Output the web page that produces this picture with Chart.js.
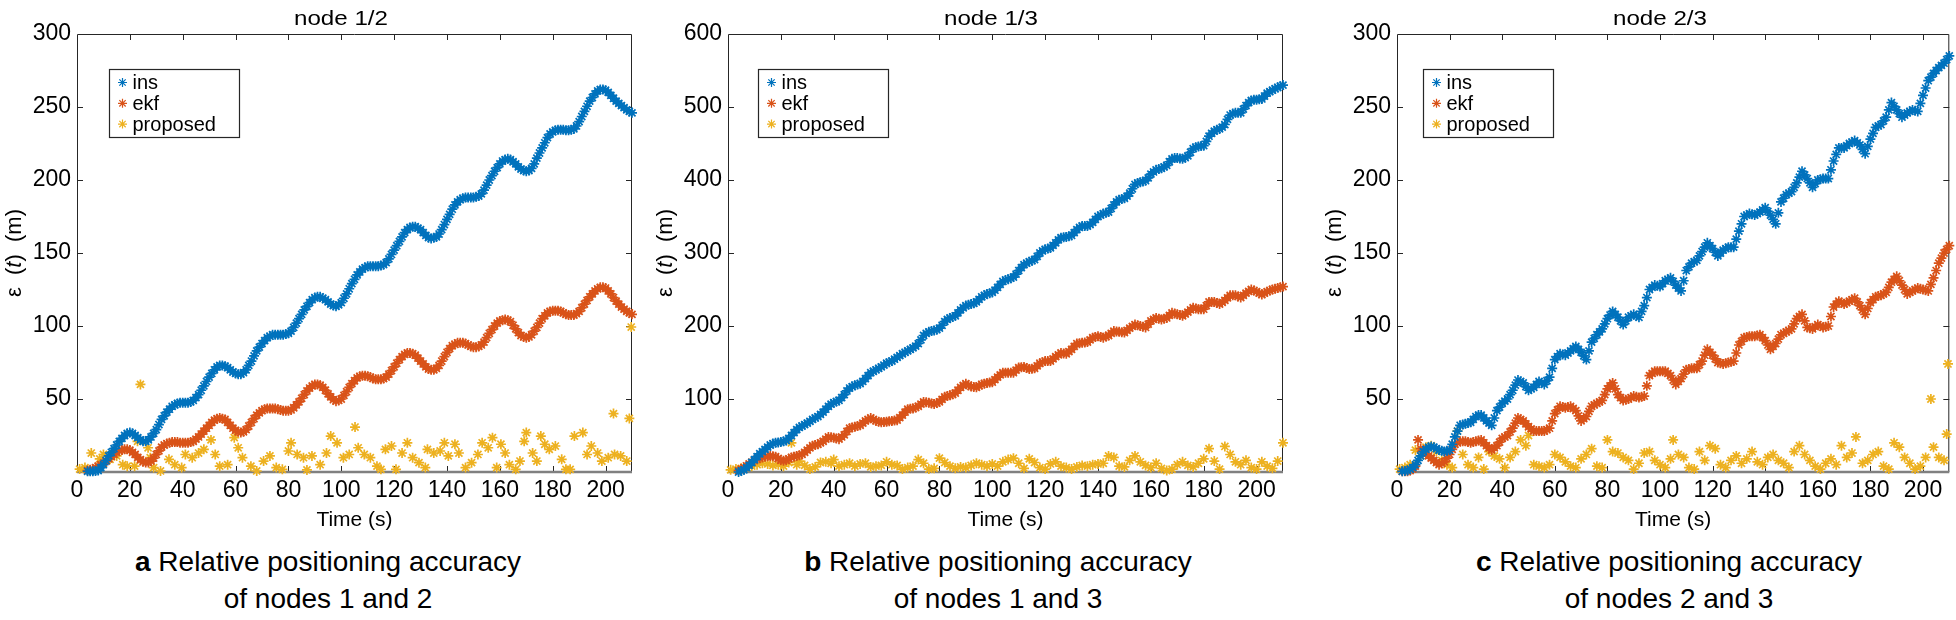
<!DOCTYPE html>
<html>
<head>
<meta charset="utf-8">
<script src="https://cdn.jsdelivr.net/npm/chart.js@4"></script>
<style>
  body { margin: 0; width: 1956px; height: 620px; background: #fff; position: relative; overflow: hidden;
         font-family: 'Liberation Sans', Arial, sans-serif; color: #000; }
  canvas { position: absolute; top: 0; }
  .ttl { position: absolute; top: 0; line-height: 35px; font-size: 21px; white-space: nowrap;
         transform: translateX(-50%) scaleX(1.15); }
  .cap { position: absolute; top: 544px; font-size: 28px; line-height: 36.6px; text-align: center;
         white-space: nowrap; transform: translateX(-50%); }
</style>
</head>
<body>
<canvas id="c1" width="650" height="540" style="left:0"></canvas>
<canvas id="c2" width="655" height="540" style="left:650px"></canvas>
<canvas id="c3" width="651" height="540" style="left:1305px"></canvas>

<div class="ttl" style="left:341px">node 1/2</div>
<div class="ttl" style="left:991px">node 1/3</div>
<div class="ttl" style="left:1660px">node 2/3</div>

<div class="cap" style="left:328px"><b>a</b> Relative positioning accuracy<br>of nodes 1 and 2</div>
<div class="cap" style="left:998px"><b>b</b> Relative positioning accuracy<br>of nodes 1 and 3</div>
<div class="cap" style="left:1669px"><b>c</b> Relative positioning accuracy<br>of nodes 2 and 3</div>

<script>
// sample times (s) of ins / ekf, panels a and b
const timeAB = [4,5,6,7,8,9,10,11,12,13,14,15,16,17,18,19,20,21,22,23,
  24,25,26,27,28,29,30,31,32,33,34,35,36,37,38,39,40,41,42,43,
  44,45,46,47,48,49,50,51,52,53,54,55,56,57,58,59,60,61,62,63,
  64,65,66,67,68,69,70,71,72,73,74,75,76,77,78,79,80,81,82,83,
  84,85,86,87,88,89,90,91,92,93,94,95,96,97,98,99,100,101,102,103,
  104,105,106,107,108,109,110,111,112,113,114,115,116,117,118,119,120,121,122,123,
  124,125,126,127,128,129,130,131,132,133,134,135,136,137,138,139,140,141,142,143,
  144,145,146,147,148,149,150,151,152,153,154,155,156,157,158,159,160,161,162,163,
  164,165,166,167,168,169,170,171,172,173,174,175,176,177,178,179,180,181,182,183,
  184,185,186,187,188,189,190,191,192,193,194,195,196,197,198,199,200,201,202,203,
  204,205,206,207,208,209,210];
// sample times (s) of ins / ekf, panel c
const timeC = [2,3,4,5,6,7,8,9,10,11,12,13,14,15,16,17,18,19,20,21,
  22,23,24,25,26,27,28,29,30,31,32,33,34,35,36,37,38,39,40,41,
  42,43,44,45,46,47,48,49,50,51,52,53,54,55,56,57,58,59,60,61,
  62,63,64,65,66,67,68,69,70,71,72,73,74,75,76,77,78,79,80,81,
  82,83,84,85,86,87,88,89,90,91,92,93,94,95,96,97,98,99,100,101,
  102,103,104,105,106,107,108,109,110,111,112,113,114,115,116,117,118,119,120,121,
  122,123,124,125,126,127,128,129,130,131,132,133,134,135,136,137,138,139,140,141,
  142,143,144,145,146,147,148,149,150,151,152,153,154,155,156,157,158,159,160,161,
  162,163,164,165,166,167,168,169,170,171,172,173,174,175,176,177,178,179,180,181,
  182,183,184,185,186,187,188,189,190,191,192,193,194,195,196,197,198,199,200,201,
  202,203,204,205,206,207,208,209,210];

// node 1/2
const ins12 = [0.5,0.5,0.5,0.7,1,3,5,8,11,13.5,16,18.5,21,23,25,26.5,27,26.5,25,23.5,
  22,21,21,22,24,26.5,29,32.5,36,38.5,41,43,45,46,47,47.5,47.5,47.5,47.5,48,
  49,51,53,56,59,62,65,67.5,70,72,73,73,72.5,71.5,70,68.5,67.5,67,67,68,
  70,73,76,79.5,83,85.5,88,90,92,93,94,94,94,94,94,94.5,95,96.5,99,102,
  105,108,111,113.5,116,118,119.5,120,120,119,118,116.5,115,114,113.5,114.5,116,119,122,125.5,
  129,132,135,137,139,140,141,141,141,141,141,141.5,142,143.5,146,149,152,155,158,161,
  164,166,167.5,168,168,167,166,164,162,160.5,160,160.5,161,163,166,169.5,173,176.5,180,183,
  185,186.5,187.5,188,188,188,188,188.5,189,190.5,193,196.5,200,203,206,208.5,211,213,214,214.5,
  214,212.5,211,209,207.5,206.5,206,206.5,208,211,215,218.5,222,225.5,229,231.5,233,234,234.5,234.5,
  234.5,234,234,234.5,235,237,240,243.5,247,250.5,254,256.5,259,261,262,262,261.5,260,258,256,
  254,252.5,251,249.5,248,247,246];
const ekf12 = [1,1.5,2,3,4,5,6,7.5,9,10.5,12,13.5,14.5,15,15.5,15.5,15,13.5,12,10,
  8.5,7,6.5,6.5,7.5,9.5,12,14.5,17,18.5,19.5,20,20.5,20.5,20.5,20,20,20,20,20.5,
  21,22.5,24,26,28,30,32,34,35.5,36.5,37,36.5,36,34,32,30,28.5,27.5,27,27.5,
  29,31.5,34,36.5,39,40.5,42,43,43.5,43.5,43.5,43.5,43,42.5,42,42,42,42.5,44,46,
  48,50.5,53,55.5,57.5,59,60,60,59.5,58,56,53.5,51.5,49.5,48.5,49,50,52.5,55,58,
  60.5,62.5,64.5,65.5,66,66,65.5,65,64,63.5,63.5,63.5,64,65,67,69.5,72,74.5,77,79,
  80.5,81.5,81.5,81,80,78,76,74,72,70.5,70,70,71,73,76,79,82,84.5,86.5,87.5,
  88.5,88.5,88.5,88,87,86,85.5,85.5,86,87,89,92,95,97.5,100,102,103.5,104,104.5,104,
  103,100.5,98,95.5,93.5,92.5,92,92.5,94,96.5,99,102,105,107,109,110,110.5,110.5,110.5,110,
  109,108,107.5,107.5,107.5,108.5,110,112.5,115,117.5,120,122,124,125.5,126.5,126.5,126,124,122,119.5,
  117,115,113,111.5,110,109,108];
const propT12 = [1,3,5,5.4,8.6,10,12.5,15,17.3,19,
  21.8,22.9,24,26.9,27.7,29,31.6,34.8,37,39.6,
  41,43.6,46,48,50.7,52.3,54,57,59.5,61,
  62.6,65.8,68,70.6,73,75.4,77.7,80,81,83.3,
  85.7,87,88.9,92,94.4,96,98.4,100.8,103,105.2,
  106.4,108.7,111,113.5,115,116.7,119,120.7,123,125,
  127,129.4,131.8,132.6,135,137.4,139,140.5,143,144.5,
  147,149.3,151.7,153.3,155.6,157.2,158.8,160.4,162,163.6,
  166,167.6,169.2,170,172.4,174,175.5,177,178.7,181,
  183.4,185,186.6,188.2,191.4,193,194.6,197,198.6,201,
  203,203.4,205.7,208,209,209.7];
const prop12 = [2,3,1,13,9,12,8.7,11,5,4,
  4,21,60,16.6,9.8,3,0.7,8.7,5,3,
  12,9.8,13,15.5,22,12,4,5,23.5,16.6,
  9.8,4,0.7,7.5,11,3,1.8,14.4,20,12,
  9.8,1.4,11,5,13,24.6,20,9.8,12,30.8,
  16.6,12,9.8,4,1.8,15.5,17.8,1.8,13,20,
  9.8,6.4,3,15.5,13,14.4,20,11,19,13,
  3,6.4,12,20,16.6,23.5,3,19,13,5,
  1.8,7.5,21,27,13,7.5,24.6,19,15.5,17.8,
  8.7,1.8,1.8,24.6,27,12,17.8,13,7.5,9.8,
  40,12,11,7.5,36.7,99.3];

// node 1/3
const ins13 = [0,1.5,3,6,9,13,17,21,25,28,31,34,37,39,40,40.5,41,42,43,46,
  50,54,58,61,63,65,67,69.5,72,74,76,79,82,86,90,93,95,96.5,98,102,
  106,111,115,117,119,120,121,124,128,132,136,138,140,142,144,146.5,149,150.5,152,154.5,
  157,159.5,162,164,166,168,170,172.5,176,181,187,190,192,193,194,195,197,201,206,209,
  211,212.5,214,218,222,225,228,229,230,231,233,236.5,240,242,244,245,246,249,253,257,
  261,263,264,265.5,267,271,276,280,284,286,288,289.5,291,295.5,300,303,305,306,307,310.5,
  314,318,321,321.5,322,323,324,328,332,335,337,337,337,339,342,346,350,352,354,355,
  356,361,366,370,373,374,375,378,382,388,394,396,397,398,399,403,408,411,414,415,
  416,418,420,425,429,430,430,429.5,429,430.5,433,438,443,445,446,446.5,447,453,460,464,
  467,469,470,472.5,476,483,489,491,492,492,492,497,502,506,509,510,510,510.5,511,515,
  519,521,523,525,527,528.5,530];
const ekf13 = [2,4,6,8.5,11,13.5,16,17.5,19,20,21,21.5,22,21.5,21,18.5,16,15.5,16,18,
  20,21,22,23,24,27,30,33,36,37,38,40,42,45,48,47.5,47,46,45,48,
  51,55.5,60,61,62,63,64,67,70,72,74,72,70,69,68,68.5,69,69.5,70,70.5,
  71,74.5,78,82,86,86.5,87,88.5,90,93,96,95.5,95,94,93,94.5,96,99.5,103,104,
  105,106.5,108,112,116,118.5,121,119,117,116.5,116,118,120,121,122,122.5,123,126.5,130,133,
  136,136,136,136,136,139.5,143,143.5,144,142.5,141,141.5,142,145.5,149,150.5,152,152,152,155,
  158,160.5,163,162.5,162,165,168,172,176,176.5,177,177.5,178,181,184,185,186,185,184,185.5,
  187,190,193,192.5,192,191.5,191,194,197,199.5,202,201,200,199,198,202.5,207,209,211,210,
  209,210,211,214.5,218,217,216,215,214,216.5,219,222,225,224,223,223,223,228,233,233,
  233,231.5,230,232.5,235,238.5,242,242,242,240.5,239,242,245,247.5,250,248.5,247,245,243,245,
  247,248.5,250,251,252,253,254];
const propT13 = [1,3,5,7,9,11,13,15,17,19,
  21,23,24,26,27,29,31,33,35,37,
  39,40,42,44,46,48,50,52,54,56,
  58,60,62,64,66,68,70,72,74,76,
  78,80,82,84,86,88,90,92,94,96,
  98,100,102,104,106,108,110,112,114,116,
  118,120,122,124,126,128,130,132,134,136,
  138,140,142,144,146,148,150,152,154,156,
  158,160,162,164,166,168,170,172,174,176,
  178,180,182,184,186,188,190,192,194,196,
  198,200,202,204,206,208,210];
const prop13 = [3,4,5,6,8,10,12,11,9,10,
  8,13,40,10,15,9,4,7,13,14,
  12,17,8,10,12,8,11,12,7,8,
  9,14,10,9,4,6,8,17,12,4,
  5,19,13,8,5,7,6,9,12,10,
  8,11,8,14,17,19,12,5,18,13,
  6,4,11,14,8,6,4,7,9,8,
  10,11,12,22,20,8,7,16,22,14,
  9,6,12,5,2,4,10,14,9,7,
  12,18,32,15,4,35,24,14,10,16,
  6,4,14,8,5,15,40];

// node 2/3
const ins23 = [0.5,0.7,1,2,3,5,8,11,14,15.5,17,17.5,17,16,15,14.5,14,14.5,15,19,
  24,28,32,32.5,33,33.5,34,36,38,39,39,37,35,33.5,32,37,42,44.5,47,48.5,
  50,53,56,59.5,63,62,61,58.5,56,57,58,60,62,61,60,62.5,65,71,77,79,
  81,80.5,80,81.5,83,84.5,86,84,82,79.5,77,83,89,91.5,94,96,98,101.5,105,107.5,
  110,108,106,103.5,101,103.5,106,107,108,107,106,110,114,119.5,125,126.5,128,127.5,127,129,
  131,132,133,130.5,128,126,124,131,138,140.5,143,144,145,148,151,154,157,155,153,150.5,
  148,150,152,153,154,154,154,159.5,165,170,175,176,177,176.5,176,177,178,179.5,181,178.5,
  176,173,170,177.5,185,187.5,190,191,192,195,198,202,206,203.5,201,198,195,197.5,200,200.5,
  201,201,201,207,213,217.5,222,222,222,223.5,225,226,227,225.5,224,221,218,223,228,232,
  236,237,238,240.5,243,248,253,250.5,248,245.5,243,244.5,246,247,248,247.5,247,252.5,258,263,
  268,270.5,273,275,277,278.5,280,282.5,285];
const ekf23 = [0.5,0.5,0.5,1,2,4,22,16,14,12.5,11,9.5,8,6.5,5,6,7,9.5,12,15.5,
  19,20,21,21,21,20.5,20,20.5,21,21.5,22,20,18,16.5,15,16.5,18,20.5,23,24,
  25,27.5,30,33.5,37,36,35,33,31,29.5,28,28,28,28,28,29,30,35,40,42.5,
  45,44.5,44,44.5,45,43.5,42,38.5,35,36.5,38,41.5,45,46,47,48,49,53,57,59,
  61,57,53,51,49,49.5,50,51,52,51.5,51,51.5,52,59,66,67.5,69,69,69,69,
  69,67.5,66,63,60,62,64,67,70,70.5,71,71,71,73.5,76,80,84,82,80,77.5,
  75,74.5,74,74.5,75,75.5,76,81.5,87,89.5,92,92.5,93,93,93,93.5,94,92,90,87,
  84,86,88,91,94,95,96,97,98,101.5,105,106.5,108,103.5,99,98.5,98,99.5,101,100,
  99,99.5,100,106.5,113,115,117,116,115,116,117,118,119,116.5,114,111,108,112,116,118,
  120,120.5,121,122,123,126.5,130,132,134,131,128,125,122,123,124,125,126,125.5,125,124.5,
  124,128.5,133,138,143,146.5,150,152.5,155];
const propT23 = [1,3,5,7,9,11,13,15,17,19,
  21,23,25,27,29,31,33,35,37,39,
  41,43,45,47,49,50,52,54,56,58,
  60,62,64,66,68,70,72,74,76,78,
  80,82,84,86,88,90,92,94,96,98,
  100,102,104,105,107,109,111,113,115,117,
  119,121,123,125,127,129,131,133,135,137,
  139,141,143,145,147,149,151,153,155,157,
  159,161,163,165,167,169,171,173,174.5,177,
  179,181,183,185,187,189,191,193,195,197,
  199,201,203,204,206,208,209,209.5];
const prop23 = [2,3,5,15,11,17,18,14,8,5,
  3,28,12,5,3,10,2,14,11,9,
  3,10,14,22,18,25,5,4,3,5,
  12,10,7,4,3,9,12,16,4,3,
  22,14,13,10,8,2,6,13,14,8,
  5,3,9,22,12,10,3,2,14,8,
  18,16,5,3,8,11,6,9,14,7,
  5,10,12,8,6,3,14,18,12,8,
  4,2,6,9,5,18,10,13,24,6,
  8,12,14,4,2,20,17,10,6,2,
  4,10,50,17,10,8,26,74];

const xTicks = [0,20,40,60,80,100,120,140,160,180,200];
const yTicks300 = [0,50,100,150,200,250,300];
const yTicks600 = [0,100,200,300,400,500,600];

const colIns = '#0072BD', colEkf = '#D95319', colProp = '#EDB120';
const font = "'Liberation Sans', Arial, sans-serif";
Chart.defaults.font.family = font;
Chart.defaults.color = '#000';

function pts(xs, ys) {
  return ys.map((v, i) => ({ x: xs[i], y: v }));
}

// box, inward ticks, y title and boxed legend like the original figures
const frame = {
  id: 'frame',
  beforeDatasetsDraw(chart) {
    const { ctx, chartArea: a, scales: { x, y } } = chart;
    ctx.save();
    ctx.strokeStyle = '#262626';
    ctx.lineWidth = 1;
    ctx.beginPath();
    x.ticks.forEach(t => {
      const px = Math.round(x.getPixelForValue(t.value)) + 0.5;
      if (px <= a.left + 1 || px >= a.right - 1) return;
      ctx.moveTo(px, a.top); ctx.lineTo(px, a.top + 6);
      ctx.moveTo(px, a.bottom); ctx.lineTo(px, a.bottom - 6);
    });
    y.ticks.forEach(t => {
      const py = Math.round(y.getPixelForValue(t.value)) + 0.5;
      if (py <= a.top + 1 || py >= a.bottom - 1) return;
      ctx.moveTo(a.left, py); ctx.lineTo(a.left + 6, py);
      ctx.moveTo(a.right, py); ctx.lineTo(a.right - 6, py);
    });
    ctx.stroke();
    ctx.beginPath();
    ctx.moveTo(a.left + 0.5, a.bottom);
    ctx.lineTo(a.left + 0.5, a.top + 0.5);
    ctx.lineTo(a.right - 0.5, a.top + 0.5);
    ctx.lineTo(a.right - 0.5, a.bottom);
    ctx.stroke();
    ctx.strokeStyle = '#808080';
    ctx.lineWidth = 2.5;
    ctx.beginPath();
    ctx.moveTo(a.left, a.bottom);
    ctx.lineTo(a.right, a.bottom);
    ctx.stroke();

    // y title: ε (t) (m), t in italics
    const parts = [['ε  (', ''], ['t', 'italic '], [')  (m)', '']];
    ctx.fillStyle = '#000';
    ctx.textBaseline = 'middle';
    let total = 0;
    parts.forEach(p => { ctx.font = p[1] + '22px ' + font; total += ctx.measureText(p[0]).width; });
    ctx.translate(a.left - 62, (a.top + a.bottom) / 2);
    ctx.rotate(-Math.PI / 2);
    let cx = -total / 2;
    parts.forEach(p => {
      ctx.font = p[1] + '22px ' + font;
      ctx.fillText(p[0], cx, 0);
      cx += ctx.measureText(p[0]).width;
    });
    ctx.restore();
  },
  afterDatasetsDraw(chart, args, opts) {
    const { ctx, chartArea: a } = chart;
    const bx = Math.round(a.left + opts.dx) + 0.5, by = Math.round(a.top + 35) + 0.5;
    ctx.save();
    ctx.fillStyle = '#fff';
    ctx.fillRect(bx, by, 130, 68);
    ctx.strokeStyle = '#262626';
    ctx.lineWidth = 1.2;
    ctx.strokeRect(bx, by, 130, 68);
    ctx.font = '20px ' + font;
    ctx.textBaseline = 'middle';
    chart.data.datasets.forEach((ds, i) => {
      const cy = by + 13 + i * 20.8;
      ctx.strokeStyle = ds.borderColor;
      Chart.helpers.drawPoint(ctx, { pointStyle: 'star', radius: 4.5, borderWidth: 1.6, rotation: 0 }, bx + 13, cy);
      ctx.fillStyle = '#000';
      ctx.fillText(ds.label, bx + 23, cy + 1);
    });
    ctx.restore();
  }
};

function makeChart(id, tIns, ins, ekf, tProp, prop, yMax, yTicks, yWidth, padRight, legendDx) {
  const mk = (label, data, color) => ({
    label, data, borderColor: color, backgroundColor: color,
    pointStyle: 'star', pointRadius: 5, pointBorderWidth: 1.7, showLine: false, clip: false
  });
  return new Chart(document.getElementById(id), {
    type: 'scatter',
    data: {
      datasets: [
        mk('ins', pts(tIns, ins), colIns),
        mk('ekf', pts(tIns, ekf), colEkf),
        mk('proposed', pts(tProp, prop), colProp)
      ]
    },
    options: {
      responsive: false,
      animation: false,
      devicePixelRatio: 1,
      layout: { padding: { top: 34, right: padRight, left: 0, bottom: 0 } },
      plugins: { legend: { display: false }, tooltip: { enabled: false }, frame: { dx: legendDx } },
      scales: {
        x: {
          type: 'linear', min: 0, max: 210,
          afterBuildTicks: s => { s.ticks = xTicks.map(v => ({ value: v })); },
          afterFit: s => { s.height = 68; },
          grid: { display: false, drawTicks: false },
          border: { display: false },
          ticks: { font: { size: 23 }, padding: 5, maxRotation: 0, autoSkip: false, color: '#000' },
          title: { display: true, text: 'Time (s)', font: { size: 21 }, padding: { top: 0, bottom: 7 }, color: '#000' }
        },
        y: {
          min: 0, max: yMax,
          afterBuildTicks: s => { s.ticks = yTicks.map(v => ({ value: v })); },
          afterFit: s => { s.width = yWidth; },
          grid: { display: false, drawTicks: false },
          border: { display: false },
          ticks: { font: { size: 23 }, padding: 6, color: '#000', callback: v => v === 0 ? '' : v }
        }
      }
    },
    plugins: [frame]
  });
}

makeChart('c1', timeAB, ins12, ekf12, propT12, prop12, 300, yTicks300, 77, 18, 32);
makeChart('c2', timeAB, ins13, ekf13, propT13, prop13, 600, yTicks600, 78, 22, 30);
makeChart('c3', timeC, ins23, ekf23, propT23, prop23, 300, yTicks300, 92, 4, 26);
</script>
</body>
</html>
